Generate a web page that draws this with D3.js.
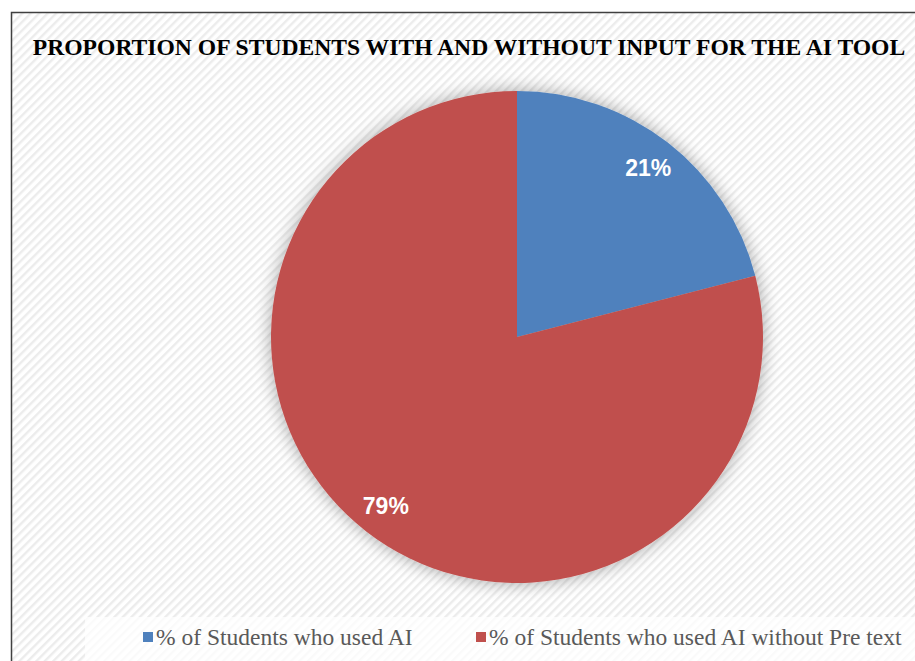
<!DOCTYPE html>
<html>
<head>
<meta charset="utf-8">
<script src="https://cdn.jsdelivr.net/npm/d3@7"></script>
<style>
  body { margin: 0; background: #fff; }
</style>
</head>
<body>
<div id="chart"></div>
<script>
// chart data
const categories = ["% of Students who used AI", "% of Students who used AI without Pre text"];
const values = [21, 79];
const colors = ["#4F81BD", "#C0504D"];
const titleText = "PROPORTION OF STUDENTS WITH AND WITHOUT INPUT FOR THE AI TOOL";

const width = 915, height = 661;
const cx = 517, cy = 337, radius = 246;

const svg = d3.select('#chart')
    .append('svg')
    .attr('width', width)
    .attr('height', height);

const defs = svg.append('defs');

// diagonal stripe background
const pat = defs.append('pattern')
    .attr('id', 'stripes')
    .attr('patternUnits', 'userSpaceOnUse')
    .attr('width', 6)
    .attr('height', 6)
    .attr('patternTransform', 'rotate(45)');
pat.append('rect').attr('width', 6).attr('height', 6).attr('fill', '#ffffff');
pat.append('rect').attr('width', 2.4).attr('height', 6).attr('fill', '#ececec');

// soft shadow for the pie
const filt = defs.append('filter')
    .attr('id', 'shadow')
    .attr('x', '-20%').attr('y', '-20%')
    .attr('width', '140%').attr('height', '140%');
filt.append('feGaussianBlur')
    .attr('in', 'SourceAlpha')
    .attr('stdDeviation', 9);
filt.append('feOffset').attr('dx', 0).attr('dy', 0).attr('result', 'blur');
filt.append('feComponentTransfer')
    .append('feFuncA').attr('type', 'linear').attr('slope', 0.35);
const merge = filt.append('feMerge');
merge.append('feMergeNode');
merge.append('feMergeNode').attr('in', 'SourceGraphic');

// plot area with border
svg.append('rect')
    .attr('x', 11.5)
    .attr('y', 12.5)
    .attr('width', width)
    .attr('height', height)
    .attr('fill', 'url(#stripes)')
    .attr('stroke', '#404040')
    .attr('stroke-width', 1.5);

// title
svg.append('text')
    .attr('x', 469)
    .attr('y', 55)
    .attr('text-anchor', 'middle')
    .attr('font-family', 'Liberation Serif, Times New Roman, serif')
    .attr('font-weight', 'bold')
    .attr('font-size', 23.6)
    .attr('fill', '#000')
    .text(titleText);

// pie
const pie = d3.pie().sort(null).value(d => d);
const arc = d3.arc().innerRadius(0).outerRadius(radius);
const labelArc = d3.arc().innerRadius(radius * 0.87).outerRadius(radius * 0.87);

const g = svg.append('g')
    .attr('transform', 'translate(' + cx + ',' + cy + ')');

g.append('g')
    .attr('filter', 'url(#shadow)')
    .selectAll('path')
    .data(pie(values))
    .enter()
    .append('path')
    .attr('d', arc)
    .attr('fill', (d, i) => colors[i]);

g.selectAll('.lbl')
    .data(pie(values))
    .enter()
    .append('text')
    .attr('class', 'lbl')
    .attr('transform', d => 'translate(' + labelArc.centroid(d) + ')')
    .attr('text-anchor', 'middle')
    .attr('dy', '0.35em')
    .attr('font-family', 'Liberation Sans, Arial, sans-serif')
    .attr('font-weight', 'bold')
    .attr('font-size', 23)
    .attr('fill', '#fff')
    .text(d => d.data + '%');

// legend
svg.append('rect')
    .attr('x', 85)
    .attr('y', 617)
    .attr('width', 830)
    .attr('height', 44)
    .attr('fill', '#fff')
    .attr('fill-opacity', 0.75);

const legendX = [143, 476];
const legend = svg.selectAll('.leg')
    .data(categories)
    .enter()
    .append('g')
    .attr('class', 'leg')
    .attr('transform', (d, i) => 'translate(' + legendX[i] + ',637)');

legend.append('rect')
    .attr('x', 0)
    .attr('y', -5)
    .attr('width', 10)
    .attr('height', 10)
    .attr('fill', (d, i) => colors[i]);

legend.append('text')
    .attr('x', 13)
    .attr('y', 0)
    .attr('dy', '0.35em')
    .attr('font-family', 'Liberation Serif, Times New Roman, serif')
    .attr('font-size', 23.5)
    .attr('fill', '#595959')
    .text(d => d);
</script>
</body>
</html>
